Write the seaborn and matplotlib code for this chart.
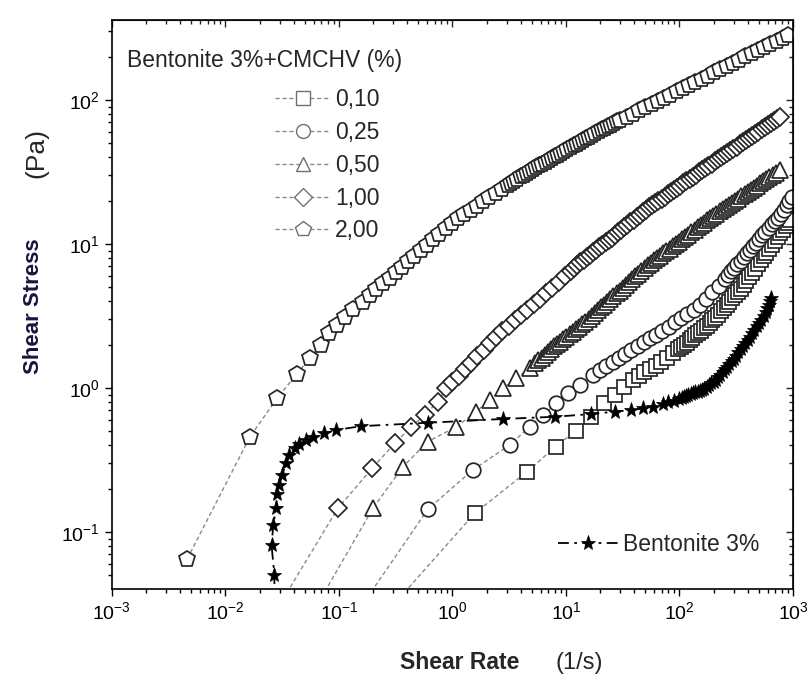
import matplotlib
matplotlib.use("Agg")
import matplotlib.pyplot as plt
from matplotlib.ticker import NullFormatter
import seaborn as sns

# flow curves: shear rate (1/s) and shear stress (Pa)
rate_010 = [0.084, 1.57, 4.53, 8.1, 12.2, 16.7, 21.5, 27.2, 32.4, 38.9, 43.7, 49.0, 55.0, 61.7,
            69.2, 77.6, 87.1, 97.7, 104, 110, 116, 123, 130, 138, 146, 155, 164, 174, 184, 195,
            207, 219, 232, 245, 260, 275, 292, 309, 328, 347, 368, 389, 413, 437, 463, 490, 520,
            550, 583, 617, 654, 692, 734, 776, 822, 871, 905, 940]
stress_010 = [0.01, 0.135, 0.262, 0.392, 0.506, 0.632, 0.784, 0.893, 1.01, 1.14, 1.22, 1.29, 1.35,
              1.43, 1.51, 1.62, 1.74, 1.86, 1.93, 2.00, 2.07, 2.15, 2.23, 2.32, 2.41, 2.51, 2.61,
              2.72, 2.83, 2.95, 3.09, 3.24, 3.41, 3.59, 3.78, 3.98, 4.19, 4.42, 4.65, 4.90, 5.19,
              5.50, 5.88, 6.31, 6.76, 7.24, 7.72, 8.22, 8.71, 9.23, 9.85, 10.5, 11.2, 11.9, 12.6,
              13.3, 14.0, 14.7]

rate_025 = [0.08, 0.607, 1.51, 3.19, 4.79, 6.27, 8.22, 10.4, 13.2, 17.3, 20.0, 22.6, 25.7, 29.2,
            33.1, 37.6, 42.7, 48.4, 55.0, 62.4, 70.8, 80.4, 91.2, 104, 117, 133, 151, 172, 195,
            221, 251, 268, 285, 304, 324, 345, 367, 391, 417, 444, 473, 504, 537, 572, 610, 650,
            692, 737, 785, 836, 891, 931, 973]
stress_025 = [0.014, 0.144, 0.27, 0.402, 0.538, 0.649, 0.784, 0.918, 1.05, 1.23, 1.33, 1.43, 1.52,
              1.62, 1.73, 1.84, 1.96, 2.08, 2.21, 2.35, 2.50, 2.67, 2.86, 3.05, 3.27, 3.51, 3.80,
              4.17, 4.62, 5.13, 5.75, 6.10, 6.46, 6.84, 7.24, 7.67, 8.13, 8.61, 9.12, 9.64, 10.2,
              10.8, 11.5, 12.2, 12.9, 13.7, 14.5, 15.3, 16.2, 17.3, 18.6, 20.0, 21.4]

rate_050 = [0.028, 0.199, 0.366, 0.607, 1.08, 1.62, 2.12, 2.78, 3.66, 4.79, 5.37, 5.72, 6.10, 6.50,
            6.92, 7.37, 7.85, 8.36, 8.91, 9.49, 10.1, 10.8, 11.5, 12.2, 13.0, 13.9, 14.8, 15.8,
            16.8, 17.9, 19.1, 20.3, 21.6, 23.0, 24.5, 26.1, 27.9, 29.7, 31.6, 33.7, 35.9, 38.2,
            40.7, 43.4, 46.2, 49.3, 52.5, 55.9, 59.6, 63.5, 67.6, 72.0, 76.7, 81.7, 87.1, 92.8,
            98.9, 105, 112, 119, 127, 136, 145, 154, 164, 175, 186, 198, 211, 226, 240, 256, 272,
            290, 309, 330, 351, 374, 398, 424, 452, 482, 513, 546, 582, 620, 661, 712, 767]
stress_050 = [0.01, 0.146, 0.284, 0.425, 0.538, 0.686, 0.826, 0.995, 1.17, 1.37, 1.49, 1.56, 1.63,
              1.71, 1.79, 1.87, 1.95, 2.02, 2.10, 2.19, 2.28, 2.37, 2.47, 2.57, 2.67, 2.78, 2.90,
              3.04, 3.18, 3.33, 3.48, 3.64, 3.80, 3.98, 4.16, 4.35, 4.55, 4.76, 4.98, 5.21, 5.44,
              5.70, 5.96, 6.24, 6.52, 6.82, 7.13, 7.43, 7.73, 8.03, 8.33, 8.65, 8.97, 9.32, 9.68,
              10.0, 10.4, 10.8, 11.2, 11.6, 12.1, 12.6, 13.1, 13.6, 14.1, 14.6, 15.1, 15.7, 16.3,
              16.9, 17.5, 18.1, 18.7, 19.3, 20.0, 20.7, 21.5, 22.2, 23.0, 23.8, 24.6, 25.5, 26.4,
              27.3, 28.2, 29.2, 30.2, 31.4, 32.7]

rate_100 = [0.018, 0.0977, 0.196, 0.309, 0.434, 0.568, 0.744, 0.88, 1.00, 1.14, 1.29, 1.46, 1.66,
            1.88, 2.14, 2.43, 2.75, 3.13, 3.55, 4.03, 4.57, 5.19, 5.89, 6.68, 7.59, 8.61, 9.77,
            11.1, 11.8, 12.6, 13.4, 14.3, 15.2, 16.2, 17.3, 18.4, 19.6, 20.9, 22.3, 23.7, 25.3,
            26.9, 28.6, 30.5, 32.5, 34.7, 37.0, 39.4, 42.0, 44.7, 47.6, 50.7, 54.0, 57.5, 61.3,
            65.3, 69.6, 74.1, 78.9, 84.1, 89.6, 95.5, 102, 108, 115, 123, 131, 140, 149, 158, 169,
            180, 192, 204, 218, 232, 247, 263, 280, 299, 318, 339, 361, 385, 410, 437, 465, 495,
            528, 562, 599, 638, 680, 724, 767]
stress_100 = [0.016, 0.146, 0.277, 0.413, 0.538, 0.649, 0.804, 0.995, 1.10, 1.22, 1.36, 1.50, 1.67,
              1.85, 2.05, 2.27, 2.48, 2.70, 2.95, 3.20, 3.49, 3.81, 4.16, 4.55, 4.98, 5.45, 5.96,
              6.52, 6.82, 7.13, 7.46, 7.80, 8.12, 8.45, 8.79, 9.14, 9.52, 9.91, 10.3, 10.7, 11.1,
              11.6, 12.1, 12.6, 13.1, 13.6, 14.2, 14.8, 15.4, 16.0, 16.6, 17.3, 18.0, 18.7, 19.3,
              20.0, 20.7, 21.4, 22.2, 23.0, 23.8, 24.7, 25.5, 26.4, 27.3, 28.3, 29.3, 30.4, 31.5,
              32.6, 33.7, 34.9, 36.2, 37.5, 38.8, 40.2, 41.6, 43.1, 44.5, 46.0, 47.6, 49.3, 51.0,
              52.7, 54.6, 56.5, 58.4, 60.5, 62.6, 64.7, 67.0, 69.3, 71.7, 74.3, 76.6]

rate_200 = [0.0046, 0.0165, 0.0285, 0.0425, 0.0557, 0.0697, 0.0824, 0.0955, 0.114, 0.132, 0.162,
            0.186, 0.214, 0.245, 0.279, 0.316, 0.359, 0.407, 0.462, 0.525, 0.596, 0.676, 0.767,
            0.871, 0.989, 1.12, 1.27, 1.45, 1.64, 1.86, 2.11, 2.40, 2.72, 3.09, 3.29, 3.51, 3.74,
            3.98, 4.24, 4.52, 4.82, 5.13, 5.47, 5.82, 6.20, 6.61, 7.04, 7.50, 7.99, 8.51, 9.07,
            9.66, 10.3, 11.0, 11.7, 12.4, 13.2, 14.1, 15.0, 16.0, 17.1, 18.2, 19.4, 20.7, 22.0,
            23.4, 25.0, 26.6, 28.4, 30.2, 34.3, 38.9, 44.2, 50.1, 56.9, 64.6, 73.3, 83.2, 94.4,
            107, 122, 138, 157, 178, 202, 229, 260, 295, 335, 380, 432, 490, 556, 631, 716, 813, 902]
stress_200 = [0.065, 0.46, 0.85, 1.25, 1.63, 1.99, 2.40, 2.74, 3.13, 3.57, 3.98, 4.40, 4.84, 5.33,
              5.82, 6.35, 6.95, 7.59, 8.28, 9.06, 9.89, 10.8, 11.8, 12.9, 14.1, 15.2, 16.2, 17.3,
              18.5, 19.8, 21.1, 22.6, 24.2, 25.8, 26.7, 27.6, 28.5, 29.5, 30.4, 31.3, 32.2, 33.2,
              34.2, 35.2, 36.2, 37.2, 38.3, 39.4, 40.6, 41.8, 43.1, 44.4, 45.7, 47.0, 48.4, 49.8,
              51.2, 52.7, 54.2, 55.8, 57.5, 59.2, 60.9, 62.7, 64.3, 65.9, 67.6, 69.3, 71.1, 72.9,
              76.7, 80.7, 84.9, 89.3, 94.0, 98.9, 104, 109, 115, 121, 127, 134, 141, 148, 156, 164,
              173, 182, 191, 201, 211, 222, 234, 246, 259, 272, 284]

rate_bent = [0.027, 0.027, 0.0255, 0.0264, 0.0279, 0.0285, 0.0299, 0.0316, 0.0342, 0.0366, 0.0406,
             0.0449, 0.0514, 0.0589, 0.0745, 0.0944, 0.157, 0.607, 2.78, 7.94, 16.7, 26.9, 37.7,
             47.8, 58.5, 71.6, 79.4, 89.1, 100, 105, 110, 115, 120, 126, 132, 138, 145, 151, 158,
             166, 174, 182, 191, 200, 209, 219, 229, 240, 251, 263, 275, 288, 302, 316, 331, 347,
             363, 380, 398, 417, 437, 458, 479, 502, 525, 550, 575, 596, 617, 632, 646]
stress_bent = [0.02, 0.050, 0.081, 0.112, 0.146, 0.183, 0.212, 0.249, 0.30, 0.343, 0.381, 0.408,
               0.435, 0.459, 0.484, 0.511, 0.544, 0.574, 0.61, 0.632, 0.66, 0.686, 0.703, 0.722,
               0.741, 0.774, 0.794, 0.817, 0.839, 0.851, 0.863, 0.877, 0.891, 0.905, 0.920, 0.933,
               0.946, 0.957, 0.968, 0.99, 1.02, 1.05, 1.08, 1.11, 1.14, 1.19, 1.24, 1.29, 1.35,
               1.41, 1.47, 1.53, 1.60, 1.68, 1.77, 1.86, 1.95, 2.05, 2.16, 2.28, 2.41, 2.55, 2.70,
               2.83, 2.97, 3.18, 3.40, 3.60, 3.80, 4.00, 4.22]

labels = ["0,10", "0,25", "0,50", "1,00", "2,00"]

sns.set_style("ticks")
plt.rcParams["font.family"] = ["Liberation Sans", "DejaVu Sans"]
plt.rcParams["axes.unicode_minus"] = False

fig = plt.figure(figsize=(8.11, 6.79), dpi=100)
ax = fig.add_axes([0.138, 0.1325, 0.8398, 0.838])
ax.set_xscale("log")
ax.set_yscale("log")

series = [
    (rate_010, stress_010, "s", 10, 9.5),
    (rate_025, stress_025, "o", 10.5, 10),
    (rate_050, stress_050, "^", 11, 10.5),
    (rate_100, stress_100, "D", 9.5, 9),
    (rate_200, stress_200, "p", 12, 11.5),
]
handles = []
for (xs, ys, mk, ms, _), lab in zip(series, labels):
    sns.lineplot(x=xs, y=ys, ax=ax, sort=False, estimator=None, legend=False,
                 color="#8a8a8a", lw=1, linestyle=(0, (3, 2)),
                 marker=mk, markersize=ms, mfc="white", mec="#262626", mew=1.25)
    line = ax.lines[-1]
    line.set_label(lab)
    handles.append(line)

sns.lineplot(x=rate_bent, y=stress_bent, ax=ax, sort=False, estimator=None, legend=False,
             color="black", lw=1.3, linestyle=(0, (6, 3, 1.5, 3)),
             marker="*", markersize=11, mfc="black", mec="black", mew=0.5)
bent = ax.lines[-1]
bent.set_label("Bentonite 3%")

ax.set_xlim(1e-3, 1e3)
ax.set_ylim(0.0402, 360)
ax.set_xlabel("")
ax.set_ylabel("")

for sp in ax.spines.values():
    sp.set_linewidth(1.2)
    sp.set_color("black")
ax.tick_params(which="both", direction="out", width=1, colors="black", labelsize=14)
ax.tick_params(which="major", length=5)
ax.tick_params(which="minor", length=3)

top = ax.secondary_xaxis("top", functions=(lambda v: v, lambda v: v))
top.tick_params(which="both", direction="in", labeltop=False, width=1)
top.tick_params(which="major", length=5)
top.tick_params(which="minor", length=3)
top.xaxis.set_major_formatter(NullFormatter())
top.xaxis.set_minor_formatter(NullFormatter())
right = ax.secondary_yaxis("right", functions=(lambda v: v, lambda v: v))
right.tick_params(which="both", direction="in", labelright=False, width=1)
right.tick_params(which="major", length=5)
right.tick_params(which="minor", length=3)
right.yaxis.set_major_formatter(NullFormatter())
right.yaxis.set_minor_formatter(NullFormatter())

leg1 = ax.legend(handles=handles, loc="upper left", bbox_to_anchor=(275 / 811, 0.8704),
                 bbox_transform=fig.transFigure, frameon=False, fontsize=16.5,
                 handlelength=2.4, handletextpad=0.22, labelspacing=0.43,
                 borderpad=0, borderaxespad=0, numpoints=1)
for h, s in zip(leg1.legend_handles, series):
    h.set_markeredgecolor("#707070")
    h.set_markeredgewidth(1.0)
    h.set_markersize(s[4])
ax.add_artist(leg1)
ax.legend(handles=[bent], loc="center left", bbox_to_anchor=(558 / 811, 0.1974),
          bbox_transform=fig.transFigure, frameon=False, fontsize=16.5,
          handlelength=2.6, handletextpad=0.22, borderpad=0, borderaxespad=0, numpoints=1)

fig.text(0.1566, 0.9116, "Bentonite 3%+CMCHV (%)", fontsize=16.5, va="center", ha="left")
fig.text(0.0407, 0.549, "Shear Stress", rotation=90, fontsize=16, fontweight="bold",
         color="#16163c", ha="center", va="center")
fig.text(0.0444, 0.775, "(Pa)", rotation=90, fontsize=19, ha="center", va="center")
fig.text(0.567, 0.0236, "Shear Rate", fontsize=16.5, fontweight="bold", ha="center", va="center")
fig.text(0.714, 0.0236, "(1/s)", fontsize=17, ha="center", va="center")

fig.savefig("out.png", dpi=100)
plt.close(fig)
